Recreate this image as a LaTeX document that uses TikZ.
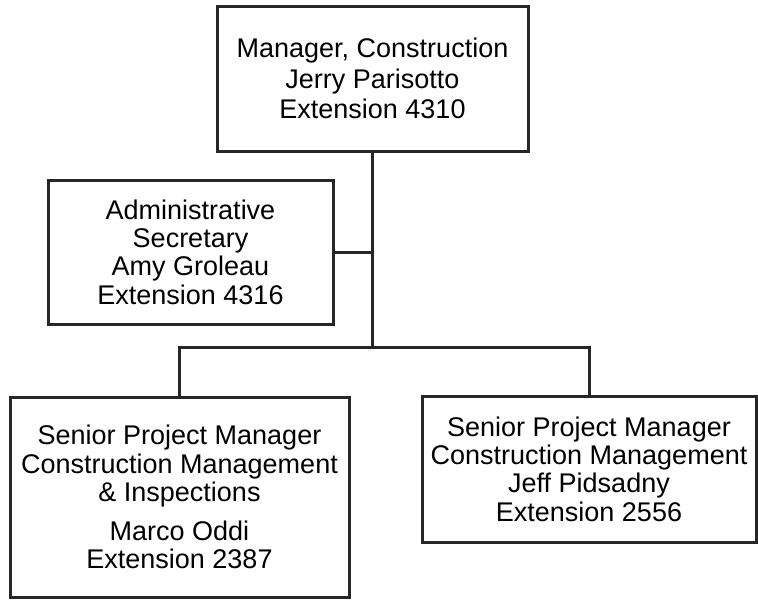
\documentclass[tikz,border=0pt]{standalone}
\usepackage{fontspec}
\setmainfont{Liberation Sans}

\begin{document}
\begin{tikzpicture}[x=0.5pt,y=-0.5pt,
		post/.style={draw=black!85,line width=1.5pt,align=center,inner sep=0pt,
			font=\fontsize{13.5}{14.2}\selectfont},
		wire/.style={draw=black!85,line width=1.5pt}]
			\useasboundingbox (0,0) rectangle (758,601);
			\node[post,minimum width=155.5pt,minimum height=72.5pt,font=\fontsize{13.5}{15.4}\selectfont] (v1) at (372.5,78.5) {Manager, Construction\\Jerry Parisotto\\Extension 4310};
			\node[post,minimum width=142.5pt,minimum height=72pt] (v2) at (190.5,252) {Administrative\\Secretary\\Amy Groleau\\Extension 4316};
			\node[post,minimum width=169.5pt,minimum height=100pt] (v3) at (179.5,497) {Senior Project Manager\\Construction Management\\\& Inspections\\[5pt]Marco Oddi\\Extension 2387};
			\node[post,minimum width=167pt,minimum height=73pt] (v4) at (589,469) {Senior Project Manager\\Construction Management\\Jeff Pidsadny\\Extension 2556};
			\coordinate (b) at (v1.south |- 0,347);
			\draw[wire] (v1.south) -- (b)
				(v2.east) -- (v2.east -| v1.south);
			\draw[wire] (v3.north) |- (b) -| (v4.north);
		\end{tikzpicture}
\end{document}
